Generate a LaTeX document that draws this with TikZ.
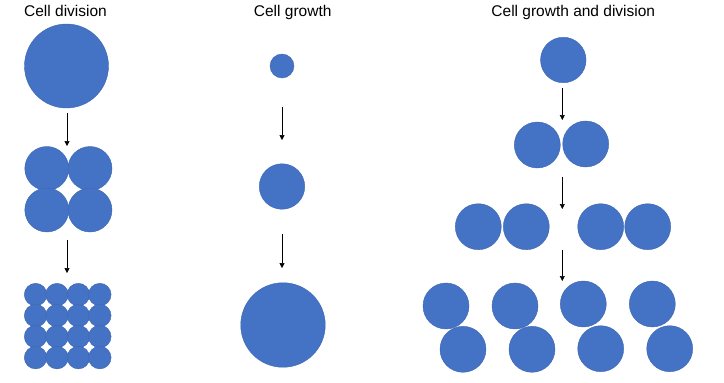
\documentclass[tikz,border=0pt]{standalone}
\usepackage{fontspec}
\setmainfont{Liberation Sans}
\usetikzlibrary{arrows.meta}
\definecolor{cellblue}{HTML}{4472C4}
\definecolor{celledge}{HTML}{3E66B0}

\begin{document}
\begin{tikzpicture}[x=1pt,y=-1pt]
        \useasboundingbox (0,0) rectangle (724,383);
        % titles
        \begin{scope}[every node/.style={font=\fontsize{15.5}{18}\selectfont, anchor=base, inner sep=0}]
                \node (Tdiv) at (65.5,16) {Cell division};
                \node (Tgro) at (292.7,16) {Cell growth};
                \node (Tboth) at (573.3,16) {Cell growth and division};
        \end{scope}
        % cells
        \begin{scope}[every node/.style={circle, fill=cellblue, draw=celledge, line width=0.4pt, inner sep=0}]
                % cell division
                \node[minimum size=84pt] (D1) at (66.5,66) {};
                \node[minimum size=44pt] (D2a) at (46.8,168.5) {};
                \node[minimum size=44pt] (D2b) at (90,168.5) {};
                \node[minimum size=44pt] (D2c) at (46.8,210) {};
                \node[minimum size=44pt] (D2d) at (90,210) {};
                \foreach \i in {0,...,3}
                        \foreach \j in {0,...,3}
                                \node[minimum size=22.6pt] (D3\i\j) at (35.6+21.4*\i,294.6+21*\j) {};
                % cell growth
                \node[minimum size=24pt] (G1) at (282,66) {};
                \node[minimum size=45.5pt] (G2) at (282,186.5) {};
                \node[minimum size=84.5pt] (G3) at (283,325) {};
                % cell growth and division
                \node[minimum size=45.5pt] (B1) at (563.3,60) {};
                \node[minimum size=46pt] (B2a) at (537.3,145) {};
                \node[minimum size=46pt] (B2b) at (585.7,144) {};
                \node[minimum size=46pt] (B3a) at (478.3,226.7) {};
                \node[minimum size=46pt] (B3b) at (526.3,226.7) {};
                \node[minimum size=46pt] (B3c) at (600.7,226.7) {};
                \node[minimum size=46pt] (B3d) at (647.7,226.7) {};
                \node[minimum size=46pt] (B4a) at (446,306) {};
                \node[minimum size=46pt] (B4b) at (515,306) {};
                \node[minimum size=46pt] (B4c) at (583.3,304) {};
                \node[minimum size=46pt] (B4d) at (652.3,304) {};
                \node[minimum size=46pt] (B4e) at (463,349.3) {};
                \node[minimum size=46pt] (B4f) at (532,349.3) {};
                \node[minimum size=46pt] (B4g) at (600.7,348.7) {};
                \node[minimum size=46pt] (B4h) at (669.7,348.7) {};
        \end{scope}
        % arrows
        \begin{scope}[every path/.style={line width=0.5pt, -{Triangle[width=5pt,length=5pt]}}]
                \coordinate (dA1) at (67,113);   \coordinate (dB1) at (67,146);
                \coordinate (dA2) at (67,240);   \coordinate (dB2) at (67,273);
                \coordinate (gA1) at (282,107);  \coordinate (gB1) at (282,140);
                \coordinate (gA2) at (282,234);  \coordinate (gB2) at (282,268);
                \coordinate (bA1) at (562.3,88);    \coordinate (bB1) at (562.3,120);
                \coordinate (bA2) at (562.3,176.7); \coordinate (bB2) at (562.3,209);
                \coordinate (bA3) at (562.3,250);   \coordinate (bB3) at (562.3,281);

                \path (dA1) edge (dB1);
                \path (dA2) edge (dB2);
                \path (gA1) edge (gB1);
                \path (gA2) edge (gB2);
                \path (bA1) edge (bB1);
                \path (bA2) edge (bB2);
                \path (bA3) edge (bB3);
        \end{scope}
\end{tikzpicture}
\end{document}
